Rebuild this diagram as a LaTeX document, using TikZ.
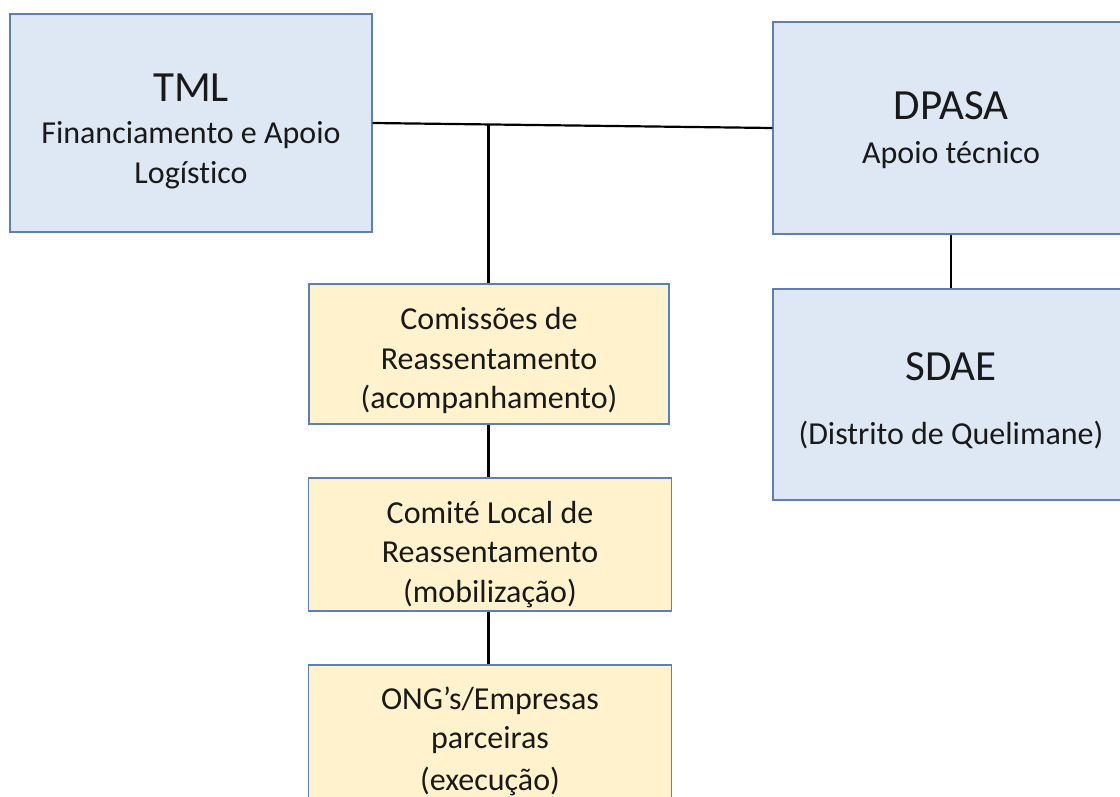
\documentclass[tikz,border=0pt]{standalone}
\usepackage{fontspec}
\setmainfont{Carlito}[Ligatures=NoCommon]
\usetikzlibrary{calc}

\definecolor{boxblue}{HTML}{DEE8F4}
\definecolor{boxyellow}{HTML}{FFF2CC}
\definecolor{edgeblue}{HTML}{5B7FB8}
\newcommand{\titletxt}[1]{{\fontsize{43}{46}\selectfont #1}}
\newcommand{\lift}[1]{\rule{0pt}{#1}}

\begin{document}
\begin{tikzpicture}[x=1pt,y=-1pt,
  bluebox/.style={draw=edgeblue, line width=1.3pt, fill=boxblue, align=center,
    inner sep=0pt, text=black!90, font=\fontsize{32}{39.5}\selectfont},
  yellowbox/.style={bluebox, fill=boxyellow},
  link/.style={line width=2.2pt}]
  \clip (0,0) rectangle (1120,797);

  % upper level
  \node[bluebox, minimum width=362, minimum height=218] (tml) at (191,123)
    {\lift{44pt}\titletxt{TML}\\[3pt] Financiamento e Apoio\\ Logístico};
  \node[bluebox, minimum width=356, minimum height=212] (dpasa) at (951,128)
    {\lift{32pt}\titletxt{DPASA}\\[4pt] Apoio técnico};
  \node[bluebox, minimum width=356, minimum height=211] (sdae) at (951,394.5)
    {\lift{40pt}\titletxt{SDAE}\\[24pt] (Distrito de Quelimane)};

  % reassentamento chain
  \node[yellowbox, minimum width=360, minimum height=140] (comis) at (489,354)
    {\lift{36pt}Comissões de\\ Reassentamento\\ (acompanhamento)};
  \node[yellowbox, minimum width=363, minimum height=133] (comite) at (490,544.5)
    {\lift{42pt}Comité Local de\\ Reassentamento\\ (mobilização)};
  \node[yellowbox, minimum width=363, minimum height=135] (ong) at (490,732.5)
    {\lift{40pt}ONG’s/Empresas\\ parceiras\\[2pt] (execução)};

  % ligacoes
  \coordinate (junc) at ($(tml.east)!0.29!(dpasa.west)$);
  \draw[link] (tml.east) -- (dpasa.west);
  \draw[link] (junc) -- (junc |- comis.north);
  \draw[link] (junc |- comis.south) -- (junc |- comite.north);
  \draw[link] (junc |- comite.south) -- (junc |- ong.north);
  \draw[link] (dpasa.south) -- (sdae.north);

\end{tikzpicture}
\end{document}
